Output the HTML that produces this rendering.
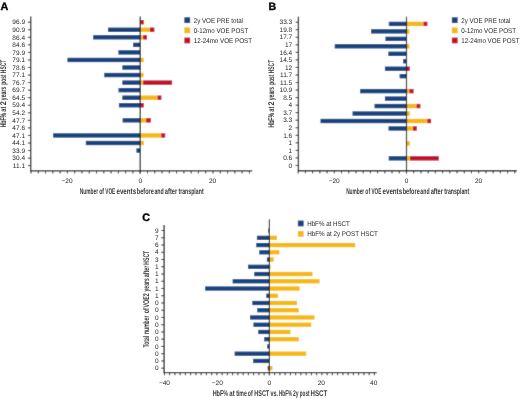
<!DOCTYPE html>
<html><head><meta charset="utf-8"><style>
html,body{margin:0;padding:0;background:#fff;}
body{width:520px;height:398px;overflow:hidden;}
svg{display:block;}
text{font-family:"Liberation Sans", sans-serif;text-rendering:geometricPrecision;}
</style></head><body>
<svg width="520" height="398" viewBox="0 0 520 398">
<defs><filter id="bl" x="0" y="0" width="1" height="1"><feConvolveMatrix order="3" kernelMatrix="0.01134 0.08382 0.01134 0.08382 0.61935 0.08382 0.01134 0.08382 0.01134" divisor="1" edgeMode="duplicate" preserveAlpha="false"/></filter><filter id="tf" x="0" y="0" width="1" height="1"><feOffset dx="0" dy="0"/></filter></defs>
<rect width="520" height="398" fill="#fff"/>
<g filter="url(#bl)">
<rect width="520" height="398" fill="#fff"/>
<rect x="140.20" y="20.00" width="3.60" height="4.40" fill="#c00a2c"/>
<rect x="108.00" y="27.55" width="32.20" height="4.40" fill="#12427f"/>
<rect x="140.20" y="27.55" width="9.80" height="4.40" fill="#f6b80d"/>
<rect x="150.00" y="27.55" width="4.40" height="4.40" fill="#c00a2c"/>
<rect x="93.10" y="35.10" width="47.10" height="4.40" fill="#12427f"/>
<rect x="140.20" y="35.10" width="3.00" height="4.40" fill="#f6b80d"/>
<rect x="143.20" y="35.10" width="3.80" height="4.40" fill="#c00a2c"/>
<rect x="133.10" y="42.65" width="7.10" height="4.40" fill="#12427f"/>
<rect x="118.40" y="50.20" width="21.80" height="4.40" fill="#12427f"/>
<rect x="67.40" y="57.75" width="72.80" height="4.40" fill="#12427f"/>
<rect x="140.20" y="57.75" width="3.50" height="4.40" fill="#f6b80d"/>
<rect x="122.30" y="65.30" width="17.90" height="4.40" fill="#12427f"/>
<rect x="104.20" y="72.85" width="36.00" height="4.40" fill="#12427f"/>
<rect x="140.20" y="72.85" width="3.40" height="4.40" fill="#f6b80d"/>
<rect x="122.30" y="80.40" width="17.90" height="4.40" fill="#12427f"/>
<rect x="140.20" y="80.40" width="3.00" height="4.40" fill="#f6b80d"/>
<rect x="143.20" y="80.40" width="28.90" height="4.40" fill="#c00a2c"/>
<rect x="118.50" y="87.95" width="21.70" height="4.40" fill="#12427f"/>
<rect x="122.30" y="95.50" width="17.90" height="4.40" fill="#12427f"/>
<rect x="140.20" y="95.50" width="17.40" height="4.40" fill="#f6b80d"/>
<rect x="157.60" y="95.50" width="3.80" height="4.40" fill="#c00a2c"/>
<rect x="118.90" y="103.05" width="21.30" height="4.40" fill="#12427f"/>
<rect x="140.20" y="103.05" width="3.60" height="4.40" fill="#c00a2c"/>
<rect x="122.60" y="118.15" width="17.60" height="4.40" fill="#12427f"/>
<rect x="140.20" y="118.15" width="6.00" height="4.40" fill="#f6b80d"/>
<rect x="146.20" y="118.15" width="4.60" height="4.40" fill="#c00a2c"/>
<rect x="53.10" y="133.25" width="87.10" height="4.40" fill="#12427f"/>
<rect x="140.20" y="133.25" width="21.10" height="4.40" fill="#f6b80d"/>
<rect x="161.30" y="133.25" width="3.90" height="4.40" fill="#c00a2c"/>
<rect x="85.80" y="140.80" width="54.40" height="4.40" fill="#12427f"/>
<rect x="140.20" y="140.80" width="3.60" height="4.40" fill="#f6b80d"/>
<rect x="136.40" y="148.35" width="3.80" height="4.40" fill="#12427f"/>
<line x1="140.20" y1="16.40" x2="140.20" y2="173.50" stroke="#1c1c1c" stroke-width="1.2"/>
<line x1="30.70" y1="16.40" x2="30.70" y2="171.30" stroke="#2a2a2a" stroke-width="1.35"/>
<line x1="30.20" y1="170.80" x2="252.30" y2="170.80" stroke="#2a2a2a" stroke-width="1.35"/>
<line x1="27.90" y1="22.20" x2="30.70" y2="22.20" stroke="#2a2a2a" stroke-width="1.0"/>
<line x1="27.90" y1="29.75" x2="30.70" y2="29.75" stroke="#2a2a2a" stroke-width="1.0"/>
<line x1="27.90" y1="37.30" x2="30.70" y2="37.30" stroke="#2a2a2a" stroke-width="1.0"/>
<line x1="27.90" y1="44.85" x2="30.70" y2="44.85" stroke="#2a2a2a" stroke-width="1.0"/>
<line x1="27.90" y1="52.40" x2="30.70" y2="52.40" stroke="#2a2a2a" stroke-width="1.0"/>
<line x1="27.90" y1="59.95" x2="30.70" y2="59.95" stroke="#2a2a2a" stroke-width="1.0"/>
<line x1="27.90" y1="67.50" x2="30.70" y2="67.50" stroke="#2a2a2a" stroke-width="1.0"/>
<line x1="27.90" y1="75.05" x2="30.70" y2="75.05" stroke="#2a2a2a" stroke-width="1.0"/>
<line x1="27.90" y1="82.60" x2="30.70" y2="82.60" stroke="#2a2a2a" stroke-width="1.0"/>
<line x1="27.90" y1="90.15" x2="30.70" y2="90.15" stroke="#2a2a2a" stroke-width="1.0"/>
<line x1="27.90" y1="97.70" x2="30.70" y2="97.70" stroke="#2a2a2a" stroke-width="1.0"/>
<line x1="27.90" y1="105.25" x2="30.70" y2="105.25" stroke="#2a2a2a" stroke-width="1.0"/>
<line x1="27.90" y1="112.80" x2="30.70" y2="112.80" stroke="#2a2a2a" stroke-width="1.0"/>
<line x1="27.90" y1="120.35" x2="30.70" y2="120.35" stroke="#2a2a2a" stroke-width="1.0"/>
<line x1="27.90" y1="127.90" x2="30.70" y2="127.90" stroke="#2a2a2a" stroke-width="1.0"/>
<line x1="27.90" y1="135.45" x2="30.70" y2="135.45" stroke="#2a2a2a" stroke-width="1.0"/>
<line x1="27.90" y1="143.00" x2="30.70" y2="143.00" stroke="#2a2a2a" stroke-width="1.0"/>
<line x1="27.90" y1="150.55" x2="30.70" y2="150.55" stroke="#2a2a2a" stroke-width="1.0"/>
<line x1="27.90" y1="158.10" x2="30.70" y2="158.10" stroke="#2a2a2a" stroke-width="1.0"/>
<line x1="27.90" y1="165.65" x2="30.70" y2="165.65" stroke="#2a2a2a" stroke-width="1.0"/>
<line x1="31.00" y1="170.80" x2="31.00" y2="173.50" stroke="#2a2a2a" stroke-width="1.0"/>
<line x1="38.28" y1="170.80" x2="38.28" y2="173.50" stroke="#2a2a2a" stroke-width="1.0"/>
<line x1="45.56" y1="170.80" x2="45.56" y2="173.50" stroke="#2a2a2a" stroke-width="1.0"/>
<line x1="52.84" y1="170.80" x2="52.84" y2="173.50" stroke="#2a2a2a" stroke-width="1.0"/>
<line x1="60.12" y1="170.80" x2="60.12" y2="173.50" stroke="#2a2a2a" stroke-width="1.0"/>
<line x1="67.40" y1="170.80" x2="67.40" y2="173.50" stroke="#2a2a2a" stroke-width="1.0"/>
<line x1="74.68" y1="170.80" x2="74.68" y2="173.50" stroke="#2a2a2a" stroke-width="1.0"/>
<line x1="81.96" y1="170.80" x2="81.96" y2="173.50" stroke="#2a2a2a" stroke-width="1.0"/>
<line x1="89.24" y1="170.80" x2="89.24" y2="173.50" stroke="#2a2a2a" stroke-width="1.0"/>
<line x1="96.52" y1="170.80" x2="96.52" y2="173.50" stroke="#2a2a2a" stroke-width="1.0"/>
<line x1="103.80" y1="170.80" x2="103.80" y2="173.50" stroke="#2a2a2a" stroke-width="1.0"/>
<line x1="111.08" y1="170.80" x2="111.08" y2="173.50" stroke="#2a2a2a" stroke-width="1.0"/>
<line x1="118.36" y1="170.80" x2="118.36" y2="173.50" stroke="#2a2a2a" stroke-width="1.0"/>
<line x1="125.64" y1="170.80" x2="125.64" y2="173.50" stroke="#2a2a2a" stroke-width="1.0"/>
<line x1="132.92" y1="170.80" x2="132.92" y2="173.50" stroke="#2a2a2a" stroke-width="1.0"/>
<line x1="140.20" y1="170.80" x2="140.20" y2="173.50" stroke="#2a2a2a" stroke-width="1.0"/>
<line x1="147.48" y1="170.80" x2="147.48" y2="173.50" stroke="#2a2a2a" stroke-width="1.0"/>
<line x1="154.76" y1="170.80" x2="154.76" y2="173.50" stroke="#2a2a2a" stroke-width="1.0"/>
<line x1="162.04" y1="170.80" x2="162.04" y2="173.50" stroke="#2a2a2a" stroke-width="1.0"/>
<line x1="169.32" y1="170.80" x2="169.32" y2="173.50" stroke="#2a2a2a" stroke-width="1.0"/>
<line x1="176.60" y1="170.80" x2="176.60" y2="173.50" stroke="#2a2a2a" stroke-width="1.0"/>
<line x1="183.88" y1="170.80" x2="183.88" y2="173.50" stroke="#2a2a2a" stroke-width="1.0"/>
<line x1="191.16" y1="170.80" x2="191.16" y2="173.50" stroke="#2a2a2a" stroke-width="1.0"/>
<line x1="198.44" y1="170.80" x2="198.44" y2="173.50" stroke="#2a2a2a" stroke-width="1.0"/>
<line x1="205.72" y1="170.80" x2="205.72" y2="173.50" stroke="#2a2a2a" stroke-width="1.0"/>
<line x1="213.00" y1="170.80" x2="213.00" y2="173.50" stroke="#2a2a2a" stroke-width="1.0"/>
<line x1="220.28" y1="170.80" x2="220.28" y2="173.50" stroke="#2a2a2a" stroke-width="1.0"/>
<line x1="227.56" y1="170.80" x2="227.56" y2="173.50" stroke="#2a2a2a" stroke-width="1.0"/>
<line x1="234.84" y1="170.80" x2="234.84" y2="173.50" stroke="#2a2a2a" stroke-width="1.0"/>
<line x1="242.12" y1="170.80" x2="242.12" y2="173.50" stroke="#2a2a2a" stroke-width="1.0"/>
<line x1="249.40" y1="170.80" x2="249.40" y2="173.50" stroke="#2a2a2a" stroke-width="1.0"/>
<rect x="184.35" y="17.25" width="5.80" height="5.80" fill="#12427f"/>
<rect x="184.35" y="27.45" width="5.80" height="5.80" fill="#f6b80d"/>
<rect x="184.35" y="37.55" width="5.80" height="5.80" fill="#c00a2c"/>
<rect x="388.80" y="21.70" width="17.70" height="4.40" fill="#12427f"/>
<rect x="406.50" y="21.70" width="17.10" height="4.40" fill="#f6b80d"/>
<rect x="423.60" y="21.70" width="3.80" height="4.40" fill="#c00a2c"/>
<rect x="371.00" y="29.17" width="35.50" height="4.40" fill="#12427f"/>
<rect x="406.50" y="29.17" width="2.90" height="4.40" fill="#f6b80d"/>
<rect x="385.40" y="36.64" width="21.10" height="4.40" fill="#12427f"/>
<rect x="334.70" y="44.11" width="71.80" height="4.40" fill="#12427f"/>
<rect x="406.50" y="44.11" width="2.90" height="4.40" fill="#f6b80d"/>
<rect x="388.30" y="51.58" width="18.20" height="4.40" fill="#12427f"/>
<rect x="403.00" y="59.05" width="3.50" height="4.40" fill="#12427f"/>
<rect x="384.90" y="66.52" width="21.60" height="4.40" fill="#12427f"/>
<rect x="406.50" y="66.52" width="3.30" height="4.40" fill="#c00a2c"/>
<rect x="399.60" y="73.99" width="6.90" height="4.40" fill="#12427f"/>
<rect x="360.10" y="88.93" width="46.40" height="4.40" fill="#12427f"/>
<rect x="406.50" y="88.93" width="2.90" height="4.40" fill="#f6b80d"/>
<rect x="409.40" y="88.93" width="4.20" height="4.40" fill="#c00a2c"/>
<rect x="384.90" y="96.40" width="21.60" height="4.40" fill="#12427f"/>
<rect x="374.50" y="103.87" width="32.00" height="4.40" fill="#12427f"/>
<rect x="406.50" y="103.87" width="10.10" height="4.40" fill="#f6b80d"/>
<rect x="416.60" y="103.87" width="3.80" height="4.40" fill="#c00a2c"/>
<rect x="352.50" y="111.34" width="54.00" height="4.40" fill="#12427f"/>
<rect x="406.50" y="111.34" width="3.30" height="4.40" fill="#f6b80d"/>
<rect x="320.50" y="118.81" width="86.00" height="4.40" fill="#12427f"/>
<rect x="406.50" y="118.81" width="20.90" height="4.40" fill="#f6b80d"/>
<rect x="427.40" y="118.81" width="3.70" height="4.40" fill="#c00a2c"/>
<rect x="388.50" y="126.28" width="18.00" height="4.40" fill="#12427f"/>
<rect x="406.50" y="126.28" width="6.50" height="4.40" fill="#f6b80d"/>
<rect x="413.00" y="126.28" width="3.80" height="4.40" fill="#c00a2c"/>
<rect x="406.50" y="141.22" width="3.50" height="4.40" fill="#f6b80d"/>
<rect x="388.70" y="156.16" width="17.80" height="4.40" fill="#12427f"/>
<rect x="406.50" y="156.16" width="3.50" height="4.40" fill="#f6b80d"/>
<rect x="410.00" y="156.16" width="28.80" height="4.40" fill="#c00a2c"/>
<line x1="406.50" y1="16.70" x2="406.50" y2="173.40" stroke="#1c1c1c" stroke-width="1.2"/>
<line x1="298.40" y1="16.70" x2="298.40" y2="171.20" stroke="#2a2a2a" stroke-width="1.35"/>
<line x1="297.90" y1="170.70" x2="516.90" y2="170.70" stroke="#2a2a2a" stroke-width="1.35"/>
<line x1="295.60" y1="22.20" x2="298.40" y2="22.20" stroke="#2a2a2a" stroke-width="1.0"/>
<line x1="295.60" y1="29.74" x2="298.40" y2="29.74" stroke="#2a2a2a" stroke-width="1.0"/>
<line x1="295.60" y1="37.28" x2="298.40" y2="37.28" stroke="#2a2a2a" stroke-width="1.0"/>
<line x1="295.60" y1="44.82" x2="298.40" y2="44.82" stroke="#2a2a2a" stroke-width="1.0"/>
<line x1="295.60" y1="52.36" x2="298.40" y2="52.36" stroke="#2a2a2a" stroke-width="1.0"/>
<line x1="295.60" y1="59.90" x2="298.40" y2="59.90" stroke="#2a2a2a" stroke-width="1.0"/>
<line x1="295.60" y1="67.44" x2="298.40" y2="67.44" stroke="#2a2a2a" stroke-width="1.0"/>
<line x1="295.60" y1="74.98" x2="298.40" y2="74.98" stroke="#2a2a2a" stroke-width="1.0"/>
<line x1="295.60" y1="82.52" x2="298.40" y2="82.52" stroke="#2a2a2a" stroke-width="1.0"/>
<line x1="295.60" y1="90.06" x2="298.40" y2="90.06" stroke="#2a2a2a" stroke-width="1.0"/>
<line x1="295.60" y1="97.60" x2="298.40" y2="97.60" stroke="#2a2a2a" stroke-width="1.0"/>
<line x1="295.60" y1="105.14" x2="298.40" y2="105.14" stroke="#2a2a2a" stroke-width="1.0"/>
<line x1="295.60" y1="112.68" x2="298.40" y2="112.68" stroke="#2a2a2a" stroke-width="1.0"/>
<line x1="295.60" y1="120.22" x2="298.40" y2="120.22" stroke="#2a2a2a" stroke-width="1.0"/>
<line x1="295.60" y1="127.76" x2="298.40" y2="127.76" stroke="#2a2a2a" stroke-width="1.0"/>
<line x1="295.60" y1="135.30" x2="298.40" y2="135.30" stroke="#2a2a2a" stroke-width="1.0"/>
<line x1="295.60" y1="142.84" x2="298.40" y2="142.84" stroke="#2a2a2a" stroke-width="1.0"/>
<line x1="295.60" y1="150.38" x2="298.40" y2="150.38" stroke="#2a2a2a" stroke-width="1.0"/>
<line x1="295.60" y1="157.92" x2="298.40" y2="157.92" stroke="#2a2a2a" stroke-width="1.0"/>
<line x1="295.60" y1="165.46" x2="298.40" y2="165.46" stroke="#2a2a2a" stroke-width="1.0"/>
<line x1="298.20" y1="170.70" x2="298.20" y2="173.40" stroke="#2a2a2a" stroke-width="1.0"/>
<line x1="305.42" y1="170.70" x2="305.42" y2="173.40" stroke="#2a2a2a" stroke-width="1.0"/>
<line x1="312.64" y1="170.70" x2="312.64" y2="173.40" stroke="#2a2a2a" stroke-width="1.0"/>
<line x1="319.86" y1="170.70" x2="319.86" y2="173.40" stroke="#2a2a2a" stroke-width="1.0"/>
<line x1="327.08" y1="170.70" x2="327.08" y2="173.40" stroke="#2a2a2a" stroke-width="1.0"/>
<line x1="334.30" y1="170.70" x2="334.30" y2="173.40" stroke="#2a2a2a" stroke-width="1.0"/>
<line x1="341.52" y1="170.70" x2="341.52" y2="173.40" stroke="#2a2a2a" stroke-width="1.0"/>
<line x1="348.74" y1="170.70" x2="348.74" y2="173.40" stroke="#2a2a2a" stroke-width="1.0"/>
<line x1="355.96" y1="170.70" x2="355.96" y2="173.40" stroke="#2a2a2a" stroke-width="1.0"/>
<line x1="363.18" y1="170.70" x2="363.18" y2="173.40" stroke="#2a2a2a" stroke-width="1.0"/>
<line x1="370.40" y1="170.70" x2="370.40" y2="173.40" stroke="#2a2a2a" stroke-width="1.0"/>
<line x1="377.62" y1="170.70" x2="377.62" y2="173.40" stroke="#2a2a2a" stroke-width="1.0"/>
<line x1="384.84" y1="170.70" x2="384.84" y2="173.40" stroke="#2a2a2a" stroke-width="1.0"/>
<line x1="392.06" y1="170.70" x2="392.06" y2="173.40" stroke="#2a2a2a" stroke-width="1.0"/>
<line x1="399.28" y1="170.70" x2="399.28" y2="173.40" stroke="#2a2a2a" stroke-width="1.0"/>
<line x1="406.50" y1="170.70" x2="406.50" y2="173.40" stroke="#2a2a2a" stroke-width="1.0"/>
<line x1="413.72" y1="170.70" x2="413.72" y2="173.40" stroke="#2a2a2a" stroke-width="1.0"/>
<line x1="420.94" y1="170.70" x2="420.94" y2="173.40" stroke="#2a2a2a" stroke-width="1.0"/>
<line x1="428.16" y1="170.70" x2="428.16" y2="173.40" stroke="#2a2a2a" stroke-width="1.0"/>
<line x1="435.38" y1="170.70" x2="435.38" y2="173.40" stroke="#2a2a2a" stroke-width="1.0"/>
<line x1="442.60" y1="170.70" x2="442.60" y2="173.40" stroke="#2a2a2a" stroke-width="1.0"/>
<line x1="449.82" y1="170.70" x2="449.82" y2="173.40" stroke="#2a2a2a" stroke-width="1.0"/>
<line x1="457.04" y1="170.70" x2="457.04" y2="173.40" stroke="#2a2a2a" stroke-width="1.0"/>
<line x1="464.26" y1="170.70" x2="464.26" y2="173.40" stroke="#2a2a2a" stroke-width="1.0"/>
<line x1="471.48" y1="170.70" x2="471.48" y2="173.40" stroke="#2a2a2a" stroke-width="1.0"/>
<line x1="478.70" y1="170.70" x2="478.70" y2="173.40" stroke="#2a2a2a" stroke-width="1.0"/>
<line x1="485.92" y1="170.70" x2="485.92" y2="173.40" stroke="#2a2a2a" stroke-width="1.0"/>
<line x1="493.14" y1="170.70" x2="493.14" y2="173.40" stroke="#2a2a2a" stroke-width="1.0"/>
<line x1="500.36" y1="170.70" x2="500.36" y2="173.40" stroke="#2a2a2a" stroke-width="1.0"/>
<line x1="507.58" y1="170.70" x2="507.58" y2="173.40" stroke="#2a2a2a" stroke-width="1.0"/>
<line x1="514.80" y1="170.70" x2="514.80" y2="173.40" stroke="#2a2a2a" stroke-width="1.0"/>
<rect x="451.85" y="17.25" width="5.80" height="5.80" fill="#12427f"/>
<rect x="451.85" y="27.45" width="5.80" height="5.80" fill="#f6b80d"/>
<rect x="451.85" y="37.55" width="5.80" height="5.80" fill="#c00a2c"/>
<rect x="268.20" y="228.45" width="1.20" height="4.30" fill="#12427f"/>
<rect x="256.90" y="235.69" width="12.50" height="4.30" fill="#12427f"/>
<rect x="269.40" y="235.69" width="7.50" height="4.30" fill="#f6b80d"/>
<rect x="256.20" y="242.93" width="13.20" height="4.30" fill="#12427f"/>
<rect x="269.40" y="242.93" width="85.80" height="4.30" fill="#f6b80d"/>
<rect x="259.20" y="250.17" width="10.20" height="4.30" fill="#12427f"/>
<rect x="269.40" y="250.17" width="10.00" height="4.30" fill="#f6b80d"/>
<rect x="266.90" y="257.41" width="2.50" height="4.30" fill="#12427f"/>
<rect x="269.40" y="257.41" width="4.30" height="4.30" fill="#f6b80d"/>
<rect x="248.00" y="264.65" width="21.40" height="4.30" fill="#12427f"/>
<rect x="269.40" y="264.65" width="1.10" height="4.30" fill="#f6b80d"/>
<rect x="254.20" y="271.89" width="15.20" height="4.30" fill="#12427f"/>
<rect x="269.40" y="271.89" width="43.10" height="4.30" fill="#f6b80d"/>
<rect x="232.60" y="279.13" width="36.80" height="4.30" fill="#12427f"/>
<rect x="269.40" y="279.13" width="50.20" height="4.30" fill="#f6b80d"/>
<rect x="205.10" y="286.37" width="64.30" height="4.30" fill="#12427f"/>
<rect x="269.40" y="286.37" width="30.20" height="4.30" fill="#f6b80d"/>
<rect x="266.20" y="293.61" width="3.20" height="4.30" fill="#12427f"/>
<rect x="269.40" y="293.61" width="8.60" height="4.30" fill="#f6b80d"/>
<rect x="252.30" y="300.85" width="17.10" height="4.30" fill="#12427f"/>
<rect x="269.40" y="300.85" width="27.60" height="4.30" fill="#f6b80d"/>
<rect x="257.20" y="308.09" width="12.20" height="4.30" fill="#12427f"/>
<rect x="269.40" y="308.09" width="29.40" height="4.30" fill="#f6b80d"/>
<rect x="250.00" y="315.33" width="19.40" height="4.30" fill="#12427f"/>
<rect x="269.40" y="315.33" width="45.10" height="4.30" fill="#f6b80d"/>
<rect x="253.40" y="322.57" width="16.00" height="4.30" fill="#12427f"/>
<rect x="269.40" y="322.57" width="41.80" height="4.30" fill="#f6b80d"/>
<rect x="258.20" y="329.81" width="11.20" height="4.30" fill="#12427f"/>
<rect x="269.40" y="329.81" width="21.00" height="4.30" fill="#f6b80d"/>
<rect x="264.20" y="337.05" width="5.20" height="4.30" fill="#12427f"/>
<rect x="269.40" y="337.05" width="29.40" height="4.30" fill="#f6b80d"/>
<rect x="267.20" y="344.29" width="2.20" height="4.30" fill="#12427f"/>
<rect x="234.60" y="351.53" width="34.80" height="4.30" fill="#12427f"/>
<rect x="269.40" y="351.53" width="36.80" height="4.30" fill="#f6b80d"/>
<rect x="253.10" y="358.77" width="16.30" height="4.30" fill="#12427f"/>
<rect x="267.70" y="366.01" width="1.70" height="4.30" fill="#12427f"/>
<rect x="269.40" y="366.01" width="3.00" height="4.30" fill="#f6b80d"/>
<line x1="269.40" y1="219.50" x2="269.40" y2="375.30" stroke="#1c1c1c" stroke-width="1.2"/>
<line x1="164.10" y1="225.00" x2="164.10" y2="373.10" stroke="#2a2a2a" stroke-width="1.35"/>
<line x1="163.60" y1="372.60" x2="376.70" y2="372.60" stroke="#2a2a2a" stroke-width="1.35"/>
<line x1="161.30" y1="230.50" x2="164.10" y2="230.50" stroke="#2a2a2a" stroke-width="1.0"/>
<line x1="161.30" y1="237.75" x2="164.10" y2="237.75" stroke="#2a2a2a" stroke-width="1.0"/>
<line x1="161.30" y1="244.99" x2="164.10" y2="244.99" stroke="#2a2a2a" stroke-width="1.0"/>
<line x1="161.30" y1="252.24" x2="164.10" y2="252.24" stroke="#2a2a2a" stroke-width="1.0"/>
<line x1="161.30" y1="259.49" x2="164.10" y2="259.49" stroke="#2a2a2a" stroke-width="1.0"/>
<line x1="161.30" y1="266.74" x2="164.10" y2="266.74" stroke="#2a2a2a" stroke-width="1.0"/>
<line x1="161.30" y1="273.98" x2="164.10" y2="273.98" stroke="#2a2a2a" stroke-width="1.0"/>
<line x1="161.30" y1="281.23" x2="164.10" y2="281.23" stroke="#2a2a2a" stroke-width="1.0"/>
<line x1="161.30" y1="288.48" x2="164.10" y2="288.48" stroke="#2a2a2a" stroke-width="1.0"/>
<line x1="161.30" y1="295.72" x2="164.10" y2="295.72" stroke="#2a2a2a" stroke-width="1.0"/>
<line x1="161.30" y1="302.97" x2="164.10" y2="302.97" stroke="#2a2a2a" stroke-width="1.0"/>
<line x1="161.30" y1="310.22" x2="164.10" y2="310.22" stroke="#2a2a2a" stroke-width="1.0"/>
<line x1="161.30" y1="317.46" x2="164.10" y2="317.46" stroke="#2a2a2a" stroke-width="1.0"/>
<line x1="161.30" y1="324.71" x2="164.10" y2="324.71" stroke="#2a2a2a" stroke-width="1.0"/>
<line x1="161.30" y1="331.96" x2="164.10" y2="331.96" stroke="#2a2a2a" stroke-width="1.0"/>
<line x1="161.30" y1="339.20" x2="164.10" y2="339.20" stroke="#2a2a2a" stroke-width="1.0"/>
<line x1="161.30" y1="346.45" x2="164.10" y2="346.45" stroke="#2a2a2a" stroke-width="1.0"/>
<line x1="161.30" y1="353.70" x2="164.10" y2="353.70" stroke="#2a2a2a" stroke-width="1.0"/>
<line x1="161.30" y1="360.95" x2="164.10" y2="360.95" stroke="#2a2a2a" stroke-width="1.0"/>
<line x1="161.30" y1="368.19" x2="164.10" y2="368.19" stroke="#2a2a2a" stroke-width="1.0"/>
<line x1="164.40" y1="372.60" x2="164.40" y2="375.30" stroke="#2a2a2a" stroke-width="1.0"/>
<line x1="169.65" y1="372.60" x2="169.65" y2="375.30" stroke="#2a2a2a" stroke-width="1.0"/>
<line x1="174.90" y1="372.60" x2="174.90" y2="375.30" stroke="#2a2a2a" stroke-width="1.0"/>
<line x1="180.15" y1="372.60" x2="180.15" y2="375.30" stroke="#2a2a2a" stroke-width="1.0"/>
<line x1="185.40" y1="372.60" x2="185.40" y2="375.30" stroke="#2a2a2a" stroke-width="1.0"/>
<line x1="190.65" y1="372.60" x2="190.65" y2="375.30" stroke="#2a2a2a" stroke-width="1.0"/>
<line x1="195.90" y1="372.60" x2="195.90" y2="375.30" stroke="#2a2a2a" stroke-width="1.0"/>
<line x1="201.15" y1="372.60" x2="201.15" y2="375.30" stroke="#2a2a2a" stroke-width="1.0"/>
<line x1="206.40" y1="372.60" x2="206.40" y2="375.30" stroke="#2a2a2a" stroke-width="1.0"/>
<line x1="211.65" y1="372.60" x2="211.65" y2="375.30" stroke="#2a2a2a" stroke-width="1.0"/>
<line x1="216.90" y1="372.60" x2="216.90" y2="375.30" stroke="#2a2a2a" stroke-width="1.0"/>
<line x1="222.15" y1="372.60" x2="222.15" y2="375.30" stroke="#2a2a2a" stroke-width="1.0"/>
<line x1="227.40" y1="372.60" x2="227.40" y2="375.30" stroke="#2a2a2a" stroke-width="1.0"/>
<line x1="232.65" y1="372.60" x2="232.65" y2="375.30" stroke="#2a2a2a" stroke-width="1.0"/>
<line x1="237.90" y1="372.60" x2="237.90" y2="375.30" stroke="#2a2a2a" stroke-width="1.0"/>
<line x1="243.15" y1="372.60" x2="243.15" y2="375.30" stroke="#2a2a2a" stroke-width="1.0"/>
<line x1="248.40" y1="372.60" x2="248.40" y2="375.30" stroke="#2a2a2a" stroke-width="1.0"/>
<line x1="253.65" y1="372.60" x2="253.65" y2="375.30" stroke="#2a2a2a" stroke-width="1.0"/>
<line x1="258.90" y1="372.60" x2="258.90" y2="375.30" stroke="#2a2a2a" stroke-width="1.0"/>
<line x1="264.15" y1="372.60" x2="264.15" y2="375.30" stroke="#2a2a2a" stroke-width="1.0"/>
<line x1="269.40" y1="372.60" x2="269.40" y2="375.30" stroke="#2a2a2a" stroke-width="1.0"/>
<line x1="274.65" y1="372.60" x2="274.65" y2="375.30" stroke="#2a2a2a" stroke-width="1.0"/>
<line x1="279.90" y1="372.60" x2="279.90" y2="375.30" stroke="#2a2a2a" stroke-width="1.0"/>
<line x1="285.15" y1="372.60" x2="285.15" y2="375.30" stroke="#2a2a2a" stroke-width="1.0"/>
<line x1="290.40" y1="372.60" x2="290.40" y2="375.30" stroke="#2a2a2a" stroke-width="1.0"/>
<line x1="295.65" y1="372.60" x2="295.65" y2="375.30" stroke="#2a2a2a" stroke-width="1.0"/>
<line x1="300.90" y1="372.60" x2="300.90" y2="375.30" stroke="#2a2a2a" stroke-width="1.0"/>
<line x1="306.15" y1="372.60" x2="306.15" y2="375.30" stroke="#2a2a2a" stroke-width="1.0"/>
<line x1="311.40" y1="372.60" x2="311.40" y2="375.30" stroke="#2a2a2a" stroke-width="1.0"/>
<line x1="316.65" y1="372.60" x2="316.65" y2="375.30" stroke="#2a2a2a" stroke-width="1.0"/>
<line x1="321.90" y1="372.60" x2="321.90" y2="375.30" stroke="#2a2a2a" stroke-width="1.0"/>
<line x1="327.15" y1="372.60" x2="327.15" y2="375.30" stroke="#2a2a2a" stroke-width="1.0"/>
<line x1="332.40" y1="372.60" x2="332.40" y2="375.30" stroke="#2a2a2a" stroke-width="1.0"/>
<line x1="337.65" y1="372.60" x2="337.65" y2="375.30" stroke="#2a2a2a" stroke-width="1.0"/>
<line x1="342.90" y1="372.60" x2="342.90" y2="375.30" stroke="#2a2a2a" stroke-width="1.0"/>
<line x1="348.15" y1="372.60" x2="348.15" y2="375.30" stroke="#2a2a2a" stroke-width="1.0"/>
<line x1="353.40" y1="372.60" x2="353.40" y2="375.30" stroke="#2a2a2a" stroke-width="1.0"/>
<line x1="358.65" y1="372.60" x2="358.65" y2="375.30" stroke="#2a2a2a" stroke-width="1.0"/>
<line x1="363.90" y1="372.60" x2="363.90" y2="375.30" stroke="#2a2a2a" stroke-width="1.0"/>
<line x1="369.15" y1="372.60" x2="369.15" y2="375.30" stroke="#2a2a2a" stroke-width="1.0"/>
<line x1="374.40" y1="372.60" x2="374.40" y2="375.30" stroke="#2a2a2a" stroke-width="1.0"/>
<rect x="297.85" y="220.55" width="5.80" height="5.80" fill="#12427f"/>
<rect x="297.85" y="230.95" width="5.80" height="5.80" fill="#f6b80d"/>
</g>
<g filter="url(#tf)">
<text x="25.00" y="24.40" font-size="6.5" text-anchor="end" fill="#262626">96.9</text>
<text x="25.00" y="31.95" font-size="6.5" text-anchor="end" fill="#262626">90.9</text>
<text x="25.00" y="39.50" font-size="6.5" text-anchor="end" fill="#262626">86.4</text>
<text x="25.00" y="47.05" font-size="6.5" text-anchor="end" fill="#262626">84.6</text>
<text x="25.00" y="54.60" font-size="6.5" text-anchor="end" fill="#262626">79.9</text>
<text x="25.00" y="62.15" font-size="6.5" text-anchor="end" fill="#262626">79.1</text>
<text x="25.00" y="69.70" font-size="6.5" text-anchor="end" fill="#262626">78.6</text>
<text x="25.00" y="77.25" font-size="6.5" text-anchor="end" fill="#262626">77.1</text>
<text x="25.00" y="84.80" font-size="6.5" text-anchor="end" fill="#262626">76.7</text>
<text x="25.00" y="92.35" font-size="6.5" text-anchor="end" fill="#262626">69.7</text>
<text x="25.00" y="99.90" font-size="6.5" text-anchor="end" fill="#262626">64.5</text>
<text x="25.00" y="107.45" font-size="6.5" text-anchor="end" fill="#262626">59.4</text>
<text x="25.00" y="115.00" font-size="6.5" text-anchor="end" fill="#262626">54.2</text>
<text x="25.00" y="122.55" font-size="6.5" text-anchor="end" fill="#262626">47.7</text>
<text x="25.00" y="130.10" font-size="6.5" text-anchor="end" fill="#262626">47.6</text>
<text x="25.00" y="137.65" font-size="6.5" text-anchor="end" fill="#262626">47.1</text>
<text x="25.00" y="145.20" font-size="6.5" text-anchor="end" fill="#262626">44.1</text>
<text x="25.00" y="152.75" font-size="6.5" text-anchor="end" fill="#262626">33.9</text>
<text x="25.00" y="160.30" font-size="6.5" text-anchor="end" fill="#262626">30.4</text>
<text x="25.00" y="167.85" font-size="6.5" text-anchor="end" fill="#262626">11.1</text>
<text x="67.10" y="182.80" font-size="6.5" text-anchor="middle" fill="#262626">−20</text>
<text x="140.20" y="182.80" font-size="6.5" text-anchor="middle" fill="#262626">0</text>
<text x="212.60" y="182.80" font-size="6.5" text-anchor="middle" fill="#262626">20</text>
<text x="79.85" y="193.60" font-size="8.3" font-weight="bold" textLength="18.20" lengthAdjust="spacingAndGlyphs" fill="#3a3a3a">Number</text>
<text x="99.15" y="193.60" font-size="8.3" font-weight="bold" textLength="4.80" lengthAdjust="spacingAndGlyphs" fill="#3a3a3a">of</text>
<text x="105.35" y="193.60" font-size="8.3" font-weight="bold" textLength="9.90" lengthAdjust="spacingAndGlyphs" fill="#3a3a3a">VOE</text>
<text x="116.45" y="193.60" font-size="8.3" font-weight="bold" textLength="19.70" lengthAdjust="spacingAndGlyphs" fill="#3a3a3a">events</text>
<text x="136.75" y="193.60" font-size="8.3" font-weight="bold" textLength="17.10" lengthAdjust="spacingAndGlyphs" fill="#3a3a3a">before</text>
<text x="154.45" y="193.60" font-size="8.3" font-weight="bold" textLength="9.30" lengthAdjust="spacingAndGlyphs" fill="#3a3a3a">and</text>
<text x="164.85" y="193.60" font-size="8.3" font-weight="bold" textLength="12.40" lengthAdjust="spacingAndGlyphs" fill="#3a3a3a">after</text>
<text x="178.45" y="193.60" font-size="8.3" font-weight="bold" textLength="25.20" lengthAdjust="spacingAndGlyphs" fill="#3a3a3a">transplant</text>
<text x="6.40" y="127.35" font-size="8.3" font-weight="bold" textLength="14.50" lengthAdjust="spacingAndGlyphs" transform="rotate(-90 6.40 127.35)" fill="#3a3a3a">HbF%</text>
<text x="6.40" y="111.65" font-size="8.3" font-weight="bold" textLength="5.10" lengthAdjust="spacingAndGlyphs" transform="rotate(-90 6.40 111.65)" fill="#3a3a3a">at</text>
<text x="6.40" y="105.35" font-size="8.3" font-weight="bold" textLength="4.10" lengthAdjust="spacingAndGlyphs" transform="rotate(-90 6.40 105.35)" fill="#3a3a3a">2</text>
<text x="6.40" y="100.15" font-size="8.3" font-weight="bold" textLength="13.50" lengthAdjust="spacingAndGlyphs" transform="rotate(-90 6.40 100.15)" fill="#3a3a3a">years</text>
<text x="6.40" y="84.65" font-size="8.3" font-weight="bold" textLength="10.10" lengthAdjust="spacingAndGlyphs" transform="rotate(-90 6.40 84.65)" fill="#3a3a3a">post</text>
<text x="6.40" y="73.15" font-size="8.3" font-weight="bold" textLength="13.40" lengthAdjust="spacingAndGlyphs" transform="rotate(-90 6.40 73.15)" fill="#3a3a3a">HSCT</text>
<text x="0.50" y="9.70" font-size="10.8" font-weight="bold" fill="#000" stroke="#000" stroke-width="0.35">A</text>
<text x="193.70" y="22.65" font-size="6.9" textLength="49.30" lengthAdjust="spacingAndGlyphs" fill="#262626">2y VOE PRE total</text>
<text x="193.70" y="32.85" font-size="6.9" textLength="54.50" lengthAdjust="spacingAndGlyphs" fill="#262626">0-12mo VOE POST</text>
<text x="193.70" y="42.95" font-size="6.9" textLength="58.30" lengthAdjust="spacingAndGlyphs" fill="#262626">12-24mo VOE POST</text>
<text x="292.20" y="24.40" font-size="6.5" text-anchor="end" fill="#262626">33.3</text>
<text x="292.20" y="31.94" font-size="6.5" text-anchor="end" fill="#262626">19.8</text>
<text x="292.20" y="39.48" font-size="6.5" text-anchor="end" fill="#262626">17.7</text>
<text x="292.20" y="47.02" font-size="6.5" text-anchor="end" fill="#262626">17</text>
<text x="292.20" y="54.56" font-size="6.5" text-anchor="end" fill="#262626">16.4</text>
<text x="292.20" y="62.10" font-size="6.5" text-anchor="end" fill="#262626">14.5</text>
<text x="292.20" y="69.64" font-size="6.5" text-anchor="end" fill="#262626">12</text>
<text x="292.20" y="77.18" font-size="6.5" text-anchor="end" fill="#262626">11.7</text>
<text x="292.20" y="84.72" font-size="6.5" text-anchor="end" fill="#262626">11.5</text>
<text x="292.20" y="92.26" font-size="6.5" text-anchor="end" fill="#262626">10.9</text>
<text x="292.20" y="99.80" font-size="6.5" text-anchor="end" fill="#262626">8.5</text>
<text x="292.20" y="107.34" font-size="6.5" text-anchor="end" fill="#262626">4</text>
<text x="292.20" y="114.88" font-size="6.5" text-anchor="end" fill="#262626">3.7</text>
<text x="292.20" y="122.42" font-size="6.5" text-anchor="end" fill="#262626">3.3</text>
<text x="292.20" y="129.96" font-size="6.5" text-anchor="end" fill="#262626">2</text>
<text x="292.20" y="137.50" font-size="6.5" text-anchor="end" fill="#262626">1.6</text>
<text x="292.20" y="145.04" font-size="6.5" text-anchor="end" fill="#262626">1</text>
<text x="292.20" y="152.58" font-size="6.5" text-anchor="end" fill="#262626">1</text>
<text x="292.20" y="160.12" font-size="6.5" text-anchor="end" fill="#262626">0.6</text>
<text x="292.20" y="167.66" font-size="6.5" text-anchor="end" fill="#262626">0</text>
<text x="334.20" y="182.80" font-size="6.5" text-anchor="middle" fill="#262626">−20</text>
<text x="406.50" y="182.80" font-size="6.5" text-anchor="middle" fill="#262626">0</text>
<text x="478.50" y="182.80" font-size="6.5" text-anchor="middle" fill="#262626">20</text>
<text x="346.15" y="193.60" font-size="8.3" font-weight="bold" textLength="18.10" lengthAdjust="spacingAndGlyphs" fill="#3a3a3a">Number</text>
<text x="365.34" y="193.60" font-size="8.3" font-weight="bold" textLength="4.78" lengthAdjust="spacingAndGlyphs" fill="#3a3a3a">of</text>
<text x="371.50" y="193.60" font-size="8.3" font-weight="bold" textLength="9.85" lengthAdjust="spacingAndGlyphs" fill="#3a3a3a">VOE</text>
<text x="382.54" y="193.60" font-size="8.3" font-weight="bold" textLength="19.59" lengthAdjust="spacingAndGlyphs" fill="#3a3a3a">events</text>
<text x="402.73" y="193.60" font-size="8.3" font-weight="bold" textLength="17.01" lengthAdjust="spacingAndGlyphs" fill="#3a3a3a">before</text>
<text x="420.32" y="193.60" font-size="8.3" font-weight="bold" textLength="9.25" lengthAdjust="spacingAndGlyphs" fill="#3a3a3a">and</text>
<text x="430.67" y="193.60" font-size="8.3" font-weight="bold" textLength="12.33" lengthAdjust="spacingAndGlyphs" fill="#3a3a3a">after</text>
<text x="444.19" y="193.60" font-size="8.3" font-weight="bold" textLength="25.06" lengthAdjust="spacingAndGlyphs" fill="#3a3a3a">transplant</text>
<text x="274.30" y="127.45" font-size="8.3" font-weight="bold" textLength="14.50" lengthAdjust="spacingAndGlyphs" transform="rotate(-90 274.30 127.45)" fill="#3a3a3a">HbF%</text>
<text x="274.30" y="111.75" font-size="8.3" font-weight="bold" textLength="5.10" lengthAdjust="spacingAndGlyphs" transform="rotate(-90 274.30 111.75)" fill="#3a3a3a">at</text>
<text x="274.30" y="105.45" font-size="8.3" font-weight="bold" textLength="4.10" lengthAdjust="spacingAndGlyphs" transform="rotate(-90 274.30 105.45)" fill="#3a3a3a">2</text>
<text x="274.30" y="100.25" font-size="8.3" font-weight="bold" textLength="13.50" lengthAdjust="spacingAndGlyphs" transform="rotate(-90 274.30 100.25)" fill="#3a3a3a">years</text>
<text x="274.30" y="84.75" font-size="8.3" font-weight="bold" textLength="10.10" lengthAdjust="spacingAndGlyphs" transform="rotate(-90 274.30 84.75)" fill="#3a3a3a">post</text>
<text x="274.30" y="73.25" font-size="8.3" font-weight="bold" textLength="13.40" lengthAdjust="spacingAndGlyphs" transform="rotate(-90 274.30 73.25)" fill="#3a3a3a">HSCT</text>
<text x="268.40" y="9.90" font-size="10.6" font-weight="bold" fill="#000" stroke="#000" stroke-width="0.35">B</text>
<text x="461.20" y="22.65" font-size="6.9" textLength="49.20" lengthAdjust="spacingAndGlyphs" fill="#262626">2y VOE PRE total</text>
<text x="461.20" y="32.85" font-size="6.9" textLength="54.90" lengthAdjust="spacingAndGlyphs" fill="#262626">0-12mo VOE POST</text>
<text x="461.20" y="42.95" font-size="6.9" textLength="58.40" lengthAdjust="spacingAndGlyphs" fill="#262626">12-24mo VOE POST</text>
<text x="158.60" y="232.70" font-size="6.5" text-anchor="end" fill="#262626">9</text>
<text x="158.60" y="239.95" font-size="6.5" text-anchor="end" fill="#262626">7</text>
<text x="158.60" y="247.19" font-size="6.5" text-anchor="end" fill="#262626">6</text>
<text x="158.60" y="254.44" font-size="6.5" text-anchor="end" fill="#262626">4</text>
<text x="158.60" y="261.69" font-size="6.5" text-anchor="end" fill="#262626">3</text>
<text x="158.60" y="268.94" font-size="6.5" text-anchor="end" fill="#262626">1</text>
<text x="158.60" y="276.18" font-size="6.5" text-anchor="end" fill="#262626">1</text>
<text x="158.60" y="283.43" font-size="6.5" text-anchor="end" fill="#262626">1</text>
<text x="158.60" y="290.68" font-size="6.5" text-anchor="end" fill="#262626">1</text>
<text x="158.60" y="297.92" font-size="6.5" text-anchor="end" fill="#262626">1</text>
<text x="158.60" y="305.17" font-size="6.5" text-anchor="end" fill="#262626">0</text>
<text x="158.60" y="312.42" font-size="6.5" text-anchor="end" fill="#262626">0</text>
<text x="158.60" y="319.66" font-size="6.5" text-anchor="end" fill="#262626">0</text>
<text x="158.60" y="326.91" font-size="6.5" text-anchor="end" fill="#262626">0</text>
<text x="158.60" y="334.16" font-size="6.5" text-anchor="end" fill="#262626">0</text>
<text x="158.60" y="341.40" font-size="6.5" text-anchor="end" fill="#262626">0</text>
<text x="158.60" y="348.65" font-size="6.5" text-anchor="end" fill="#262626">0</text>
<text x="158.60" y="355.90" font-size="6.5" text-anchor="end" fill="#262626">0</text>
<text x="158.60" y="363.15" font-size="6.5" text-anchor="end" fill="#262626">0</text>
<text x="158.60" y="370.39" font-size="6.5" text-anchor="end" fill="#262626">0</text>
<text x="164.40" y="384.60" font-size="6.5" text-anchor="middle" fill="#262626">−40</text>
<text x="217.30" y="384.60" font-size="6.5" text-anchor="middle" fill="#262626">−20</text>
<text x="269.40" y="384.60" font-size="6.5" text-anchor="middle" fill="#262626">0</text>
<text x="321.30" y="384.60" font-size="6.5" text-anchor="middle" fill="#262626">20</text>
<text x="373.70" y="384.60" font-size="6.5" text-anchor="middle" fill="#262626">40</text>
<text x="212.65" y="395.80" font-size="8.3" font-weight="bold" textLength="15.60" lengthAdjust="spacingAndGlyphs" fill="#3a3a3a">HbF%</text>
<text x="229.35" y="395.80" font-size="8.3" font-weight="bold" textLength="5.40" lengthAdjust="spacingAndGlyphs" fill="#3a3a3a">at</text>
<text x="236.15" y="395.80" font-size="8.3" font-weight="bold" textLength="10.60" lengthAdjust="spacingAndGlyphs" fill="#3a3a3a">time</text>
<text x="247.75" y="395.80" font-size="8.3" font-weight="bold" textLength="4.90" lengthAdjust="spacingAndGlyphs" fill="#3a3a3a">of</text>
<text x="254.35" y="395.80" font-size="8.3" font-weight="bold" textLength="14.80" lengthAdjust="spacingAndGlyphs" fill="#3a3a3a">HSCT</text>
<text x="270.55" y="395.80" font-size="8.3" font-weight="bold" textLength="7.50" lengthAdjust="spacingAndGlyphs" fill="#3a3a3a">vs.</text>
<text x="278.95" y="395.80" font-size="8.3" font-weight="bold" textLength="13.20" lengthAdjust="spacingAndGlyphs" fill="#3a3a3a">HbF%</text>
<text x="292.95" y="395.80" font-size="8.3" font-weight="bold" textLength="5.60" lengthAdjust="spacingAndGlyphs" fill="#3a3a3a">2y</text>
<text x="299.85" y="395.80" font-size="8.3" font-weight="bold" textLength="9.60" lengthAdjust="spacingAndGlyphs" fill="#3a3a3a">post</text>
<text x="310.55" y="395.80" font-size="8.3" font-weight="bold" textLength="16.70" lengthAdjust="spacingAndGlyphs" fill="#3a3a3a">HSCT</text>
<text x="148.70" y="347.55" font-size="8.3" font-weight="bold" textLength="11.80" lengthAdjust="spacingAndGlyphs" transform="rotate(-90 148.70 347.55)" fill="#3a3a3a">Total</text>
<text x="148.70" y="333.95" font-size="8.3" font-weight="bold" textLength="18.30" lengthAdjust="spacingAndGlyphs" transform="rotate(-90 148.70 333.95)" fill="#3a3a3a">number</text>
<text x="148.70" y="313.35" font-size="8.3" font-weight="bold" textLength="5.10" lengthAdjust="spacingAndGlyphs" transform="rotate(-90 148.70 313.35)" fill="#3a3a3a">of</text>
<text x="148.70" y="307.45" font-size="8.3" font-weight="bold" textLength="14.30" lengthAdjust="spacingAndGlyphs" transform="rotate(-90 148.70 307.45)" fill="#3a3a3a">VOE2</text>
<text x="148.70" y="291.45" font-size="8.3" font-weight="bold" textLength="13.20" lengthAdjust="spacingAndGlyphs" transform="rotate(-90 148.70 291.45)" fill="#3a3a3a">years</text>
<text x="148.70" y="277.35" font-size="8.3" font-weight="bold" textLength="11.70" lengthAdjust="spacingAndGlyphs" transform="rotate(-90 148.70 277.35)" fill="#3a3a3a">after</text>
<text x="148.70" y="264.65" font-size="8.3" font-weight="bold" textLength="13.90" lengthAdjust="spacingAndGlyphs" transform="rotate(-90 148.70 264.65)" fill="#3a3a3a">HSCT</text>
<text x="142.30" y="220.80" font-size="10.8" font-weight="bold" fill="#000" stroke="#000" stroke-width="0.35">C</text>
<text x="307.20" y="225.95" font-size="6.9" textLength="42.70" lengthAdjust="spacingAndGlyphs" fill="#262626">HbF% at HSCT</text>
<text x="307.20" y="236.35" font-size="6.9" textLength="70.60" lengthAdjust="spacingAndGlyphs" fill="#262626">HbF% at 2y POST HSCT</text>
</g>
</svg>
</body></html>
